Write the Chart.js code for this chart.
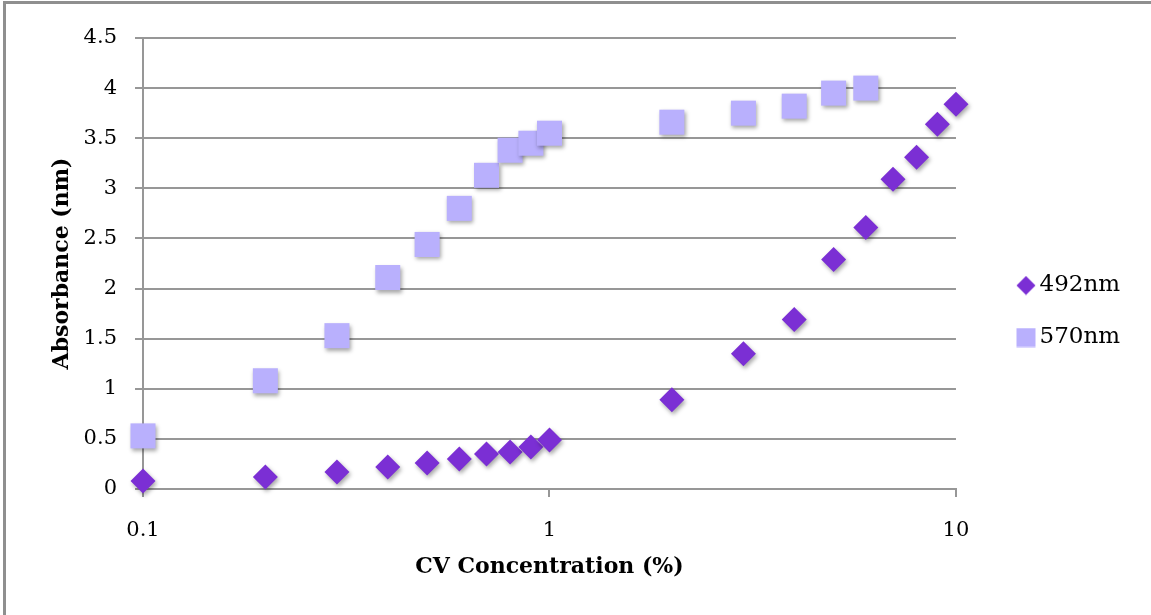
<!DOCTYPE html>
<html>
<head>
<meta charset="utf-8">
<title>CV Concentration vs Absorbance</title>
<script src="https://cdn.jsdelivr.net/npm/chart.js@4.4.1/dist/chart.umd.min.js"></script>
<style>
  html, body { margin: 0; padding: 0; background: #fff; overflow: hidden; }
  #wrap { position: relative; width: 1151px; height: 615px; }
  #frame {
    position: absolute; left: 3px; top: 1px; width: 1200px; height: 700px;
    border-left: 3px solid #8f8f8f; border-top: 3px solid #8f8f8f;
    pointer-events: none;
  }
</style>
</head>
<body>
<div id="wrap">
  <canvas id="chart"></canvas>
  <div id="frame"></div>
</div>
<script>
"use strict";

// Data.
const conc492 = [0.1, 0.2, 0.3, 0.4, 0.5, 0.6, 0.7, 0.8, 0.9, 1, 2, 3, 4, 5, 6, 7, 8, 9, 10];
const abs492 = [0.08, 0.12, 0.17, 0.22, 0.26, 0.30, 0.35, 0.37, 0.42, 0.49, 0.89, 1.35, 1.69, 2.29, 2.61, 3.09, 3.31, 3.64, 3.84];
const conc570 = [0.1, 0.2, 0.3, 0.4, 0.5, 0.6, 0.7, 0.8, 0.9, 1, 2, 3, 4, 5, 6];
const abs570 = [0.53, 1.08, 1.53, 2.11, 2.44, 2.80, 3.13, 3.38, 3.45, 3.55, 3.66, 3.75, 3.82, 3.95, 4.00];
const seriesNames = ["492nm", "570nm"];
const xTicks = [0.1, 1, 10];
const xTickLabels = ["0.1", "1", "10"];

const PURPLE = "#7b2fd4";
const LAVENDER = "#b9b0fd";
const GRID = "#979797";
const FONT = "'DejaVu Serif', serif";

function toPoints(xs, ys) {
  return xs.map((x, i) => ({ x, y: ys[i] }));
}

// Small legend markers (diamond / square), drawn once on little canvases.
function makeMarker(kind, color) {
  const c = document.createElement("canvas");
  c.width = 20; c.height = 20;
  const g = c.getContext("2d");
  g.fillStyle = color;
  if (kind === "diamond") {
    g.beginPath();
    g.moveTo(10, 0.5); g.lineTo(19.5, 10); g.lineTo(10, 19.5); g.lineTo(0.5, 10);
    g.closePath(); g.fill();
  } else {
    g.fillRect(0.5, 0.5, 19, 19);
  }
  return c;
}
const legendMarkers = [makeMarker("diamond", PURPLE), makeMarker("square", LAVENDER)];

// Soft drop shadow under the data markers, like the Excel original.
const markerShadow = {
  id: "markerShadow",
  beforeDatasetsDraw(chart) {
    const ctx = chart.ctx;
    ctx.save();
    ctx.shadowColor = "rgba(0,0,0,0.35)";
    ctx.shadowBlur = 4;
    ctx.shadowOffsetX = 1.5;
    ctx.shadowOffsetY = 2.5;
  },
  afterDatasetsDraw(chart) { chart.ctx.restore(); },
};

// Put the legend block where Excel put it.
const legendPlace = {
  id: "legendPlace",
  afterLayout(chart) {
    const lg = chart.legend;
    const w = lg.right - lg.left, h = lg.bottom - lg.top;
    lg.left = 995; lg.right = lg.left + w;
    lg.top = 23; lg.bottom = lg.top + h;
  },
};

const ctx = document.getElementById("chart").getContext("2d");
new Chart(ctx, {
  type: "scatter",
  data: {
    datasets: [
      {
        label: seriesNames[0],
        data: toPoints(conc492, abs492),
        pointStyle: "rectRot",
        pointRadius: 12.5,
        pointHoverRadius: 12.5,
        backgroundColor: PURPLE,
        borderWidth: 0,
        clip: false,
      },
      {
        label: seriesNames[1],
        data: toPoints(conc570, abs570),
        pointStyle: "rect",
        pointRadius: 17.7,
        pointHoverRadius: 17.7,
        backgroundColor: LAVENDER,
        borderWidth: 0,
        clip: false,
      },
    ],
  },
  options: {
    responsive: true,
    maintainAspectRatio: false,
    animation: false,
    layout: { padding: { top: 38, left: 5, right: 60, bottom: 0 } },
    plugins: {
      tooltip: { enabled: false },
      legend: {
        position: "right",
        labels: {
          usePointStyle: true,
          boxWidth: 4,
          boxHeight: 4,
          padding: 29,
          color: "#000",
          font: { family: FONT, size: 23 },
          generateLabels(chart) {
            const items = Chart.defaults.plugins.legend.labels.generateLabels(chart);
            items.forEach((it, i) => { it.pointStyle = legendMarkers[i]; });
            return items;
          },
        },
      },
    },
    scales: {
      x: {
        type: "logarithmic",
        min: 0.1,
        max: 10,
        afterBuildTicks(scale) { scale.ticks = xTicks.map((v) => ({ value: v })); },
        afterFit(scale) { scale.height = 126; },
        ticks: {
          autoSkip: false,
          maxRotation: 0,
          padding: 21,
          color: "#000",
          font: { family: FONT, size: 21 },
          callback: (v, i) => xTickLabels[i],
        },
        grid: { drawOnChartArea: false, drawTicks: true, tickLength: 8, color: GRID, lineWidth: 2 },
        border: { display: true, color: GRID, width: 2 },
        title: {
          display: true,
          text: "CV Concentration (%)",
          color: "#000",
          font: { family: FONT, size: 22, weight: "bold" },
          padding: { top: 0, bottom: 35 },
        },
      },
      y: {
        min: 0,
        max: 4.5,
        afterFit(scale) { scale.width = 138; },
        ticks: {
          stepSize: 0.5,
          padding: 18,
          color: "#000",
          font: { family: FONT, size: 21 },
          callback: (v) => String(Number(v.toFixed(2))),
        },
        grid: { color: GRID, lineWidth: 2, tickLength: 8 },
        border: { display: true, color: GRID, width: 2 },
        title: {
          display: true,
          text: "Absorbance (nm)",
          color: "#000",
          font: { family: FONT, size: 22, weight: "bold" },
          padding: { top: 44, bottom: 0 },
        },
      },
    },
  },
  plugins: [markerShadow, legendPlace],
});
</script>
</body>
</html>
